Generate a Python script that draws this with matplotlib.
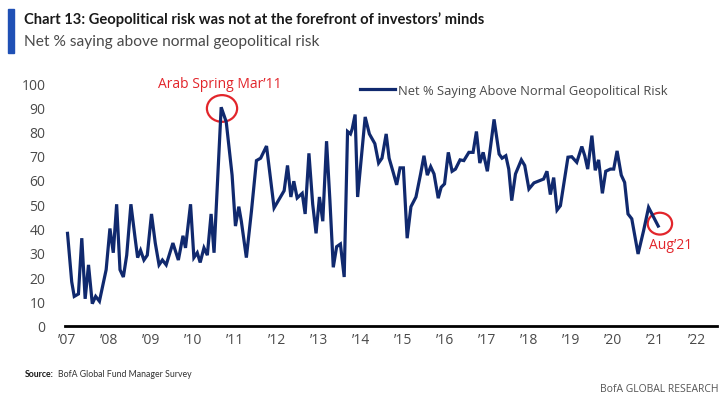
import matplotlib
import matplotlib.pyplot as plt
from matplotlib.patches import Ellipse, Rectangle

matplotlib.use('Agg')

# Turning points of the survey line (decimal year, net %)
dates = [
    2007.01, 2007.11, 2007.17, 2007.27, 2007.35, 2007.43, 2007.51, 2007.60, 2007.68, 2007.77,
    2007.93, 2008.02, 2008.10, 2008.18, 2008.26, 2008.34, 2008.42, 2008.52, 2008.62, 2008.68,
    2008.75, 2008.83, 2008.91, 2009.01, 2009.10, 2009.19, 2009.27, 2009.36, 2009.52, 2009.65,
    2009.76, 2009.82, 2009.94, 2010.02, 2010.10, 2010.17, 2010.26, 2010.34, 2010.43, 2010.50,
    2010.67, 2010.79, 2010.93, 2011.01, 2011.09, 2011.15, 2011.27, 2011.39, 2011.51, 2011.61,
    2011.75, 2011.93, 2012.17, 2012.25, 2012.33, 2012.40, 2012.48, 2012.60, 2012.67, 2012.76,
    2012.85, 2012.93, 2013.01, 2013.09, 2013.18, 2013.26, 2013.34, 2013.42, 2013.51, 2013.60,
    2013.68, 2013.75, 2013.79, 2013.86, 2013.92, 2014.10, 2014.20, 2014.33, 2014.42, 2014.50,
    2014.60, 2014.67, 2014.77, 2014.85, 2014.93, 2015.01, 2015.10, 2015.19, 2015.31, 2015.42,
    2015.50, 2015.58, 2015.66, 2015.74, 2015.84, 2015.91, 2015.99, 2016.08, 2016.17, 2016.25,
    2016.36, 2016.45, 2016.57, 2016.67, 2016.75, 2016.83, 2016.91, 2017.01, 2017.17, 2017.29,
    2017.36, 2017.45, 2017.52, 2017.59, 2017.68, 2017.82, 2017.90, 2018.00, 2018.12, 2018.25,
    2018.35, 2018.43, 2018.51, 2018.59, 2018.67, 2018.75, 2018.93, 2019.02, 2019.14, 2019.26,
    2019.33, 2019.40, 2019.50, 2019.58, 2019.66, 2019.75, 2019.83, 2019.94, 2020.02, 2020.10,
    2020.20, 2020.28, 2020.36, 2020.45, 2020.60, 2020.73, 2020.85, 2020.93, 2021.08,
]
net_pct = [
    38, 18, 12, 13, 36, 11, 25, 9, 12, 10,
    23, 40, 30, 50, 23, 20, 29, 50, 36, 28,
    31, 27, 29, 46, 34, 25, 27, 25, 34, 27,
    37, 32, 50, 28, 30, 26, 32, 29, 46, 30,
    90, 84, 62, 41, 49, 43, 28, 47, 68, 69,
    74, 48.5, 55.6, 66, 53, 59.5, 52.6, 54.5, 46, 71,
    50, 38, 53, 43, 76, 51.5, 24, 32.5, 33.6, 20,
    80, 79, 81, 87, 53, 86, 79, 75, 67, 69,
    79, 69, 63, 58, 65, 65, 36, 49, 53, 62.5,
    70, 62, 65.5, 62.5, 52.5, 57, 58.4, 71.4, 63.6, 64.5,
    68.3, 68, 71.4, 71.4, 80, 67, 71.4, 63.6, 85, 70.7,
    69, 70, 64.5, 51.5, 62.5, 68.3, 66, 56.3, 58.8, 59.7,
    60.4, 63.6, 54, 61, 47.6, 49.4, 69.4, 69.6, 67.3, 73.8,
    70, 64.5, 78.3, 64, 68.3, 54.5, 63.6, 64.5, 64.5, 72,
    62, 59, 46, 44, 29.5, 39, 48.7, 46, 41,
]
tick_years = list(range(2007, 2023))
tick_labels = ["\u2019%02d" % (y % 100) for y in tick_years]
y_ticks = list(range(0, 101, 10))

NAVY = "#10296e"
RED = "#e2252b"
GREY = "#4a4a4a"
NARROW = ['Lato', 'DejaVu Sans']

fig = plt.figure(figsize=(7.25, 4.02), dpi=100)
plt.rcParams['font.family'] = ['Open Sans', 'DejaVu Sans']

ax = fig.add_axes([65 / 725, 75.5 / 402, 652 / 725, 242.5 / 402])
ax.plot(dates, net_pct, color=NAVY, lw=2.3, solid_joinstyle='miter',
        label="Net % Saying Above Normal Geopolitical Risk")

ax.set_xlim(2006.95, 2022.48)
ax.set_ylim(0, 100)
ax.set_xticks(tick_years)
ax.set_xticklabels(tick_labels)
ax.set_yticks(y_ticks)
ax.tick_params(length=0, labelsize=10, colors=GREY)
ax.tick_params(axis='y', pad=14)
ax.tick_params(axis='x', pad=5)
for side in ['top', 'right', 'left']:
    ax.spines[side].set_visible(False)
ax.spines['bottom'].set_linewidth(2)
ax.spines['bottom'].set_color('black')

leg = ax.legend(loc='upper left', bbox_to_anchor=(0.435, 1.045), frameon=False,
                fontsize=9.3, handlelength=2.7, handletextpad=0.2)
for t in leg.get_texts():
    t.set_color(GREY)

# annotations: Arab Spring peak and latest reading
ax.add_patch(Ellipse((2010.69, 89.5), 0.72, 11, fill=False, ec=RED, lw=1.6, clip_on=False))
ax.text(2010.64, 100, "Arab Spring Mar\u201911", color=RED, fontsize=10, ha='center',
        va='center')
ax.add_patch(Ellipse((2021.12, 42), 0.58, 9, fill=False, ec=RED, lw=1.6, clip_on=False))
ax.text(2021.37, 33.2, "Aug\u201921", color=RED, fontsize=10, ha='center', va='center')

# header
fig.add_artist(Rectangle((8 / 725, 1 - 54 / 402), 6 / 725, 44 / 402, color="#1f50b5",
                         transform=fig.transFigure))
fig.text(24 / 725, 1 - 20 / 402, "Chart 13: Geopolitical risk was not at the forefront of investors\u2019 minds",
         fontsize=10.6, fontweight='bold', color='#1a1a1a', va='center', family=NARROW)
fig.text(24 / 725, 1 - 42 / 402, "Net % saying above normal geopolitical risk",
         fontsize=11.2, color=GREY, va='center', family=NARROW)

# footer
fig.text(25 / 725, 1 - 375 / 402, "Source:", fontsize=6.3, fontweight='bold', color='#1a1a1a',
         va='center', family=NARROW)
fig.text(58 / 725, 1 - 375 / 402, "BofA Global Fund Manager Survey", fontsize=6.3,
         color='#333333', va='center', family=NARROW)
fig.text(718 / 725, 1 - 390 / 402, "BofA GLOBAL RESEARCH", fontsize=7.5, color='#555555',
         va='center', ha='right')

fig.savefig("out.png", dpi=100)
plt.close(fig)
